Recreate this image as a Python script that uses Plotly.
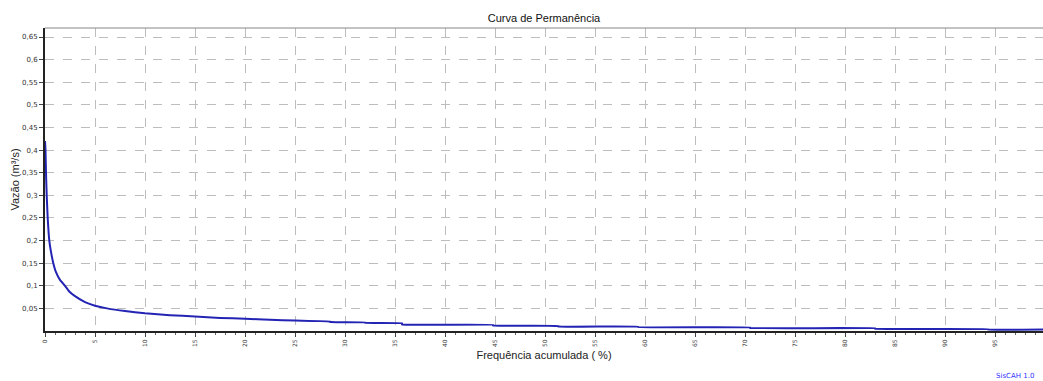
import plotly.graph_objects as go

# Flow duration curve
freq_pct = [0, 0.05, 0.1, 0.17, 0.27, 0.43, 0.6, 0.83, 1.1, 1.5, 2.0, 2.4, 3.0, 4.0, 5.0, 6.2,
            8.0, 10, 12.5, 15, 17.5, 20, 22.5, 25, 28.5, 28.5, 32, 32, 35.7, 35.7,
            44.8, 44.8, 51.3, 51.3, 59.3, 59.3, 70.5, 70.5, 83, 83, 94.3, 94.3, 100]
flow_m3s = [0.42, 0.40, 0.35, 0.30, 0.25, 0.20, 0.175, 0.15, 0.13, 0.113, 0.10, 0.088, 0.077, 0.064, 0.056, 0.050,
            0.044, 0.039, 0.035, 0.032, 0.029, 0.027, 0.025, 0.023, 0.021, 0.020, 0.019, 0.018, 0.017, 0.0145,
            0.0135, 0.012, 0.011, 0.010, 0.0095, 0.0085, 0.0078, 0.0067, 0.006, 0.005, 0.004, 0.0033, 0.0033]

x_tickvals = list(range(0, 101, 5))
x_ticktext = [str(v) for v in x_tickvals]
y_tickvals = [0.05, 0.1, 0.15, 0.2, 0.25, 0.3, 0.35, 0.4, 0.45, 0.5, 0.55, 0.6, 0.65]
y_ticktext = ["0,05", "0,1", "0,15", "0,2", "0,25", "0,3", "0,35", "0,4", "0,45", "0,5", "0,55", "0,6", "0,65"]

fig = go.Figure()
fig.add_trace(go.Scatter(x=freq_pct, y=flow_m3s, mode="lines",
                         line=dict(color="#2424b4", width=2, shape="spline", smoothing=0.3),
                         hoverinfo="skip", showlegend=False))

tickfont = dict(family="DejaVu Sans", size=7, color="#333333")
fig.update_layout(
    width=1043, height=381,
    margin=dict(l=45, r=0, t=28, b=50),
    paper_bgcolor="white", plot_bgcolor="white",
    font=dict(family="Liberation Sans", size=11, color="#222222"),
    title=dict(text="Curva de Permanência", x=0.5, xref="paper", xanchor="center",
               y=1 - 18 / 381, yanchor="middle", font=dict(size=11, color="#111111")),
    xaxis=dict(range=[0, 99.8], tickmode="array", tickvals=x_tickvals, ticktext=x_ticktext,
               tickangle=-90, tickfont=dict(family="DejaVu Sans", size=6, color="#333333"),
               ticks="outside", ticklen=4, tickcolor="#444444", automargin=False,
               minor=dict(dtick=1, ticks="outside", ticklen=2, tickcolor="#666666", showgrid=False),
               showgrid=True, gridcolor="#bdbdbd", griddash="dash", gridwidth=1,
               showline=True, linecolor="#222222", linewidth=2, zeroline=False,
               title=dict(text="Frequência acumulada ( %)", standoff=5,
                          font=dict(size=11, color="#222222"))),
    yaxis=dict(range=[0, 0.67], tickmode="array", tickvals=y_tickvals, ticktext=y_ticktext,
               tickfont=tickfont, ticks="outside", ticklen=4, tickcolor="#444444", automargin=False,
               showgrid=True, gridcolor="#bdbdbd", griddash="dash", gridwidth=1,
               showline=True, linecolor="#222222", linewidth=2, zeroline=False,
               title=dict(text="Vazão (m³/s)", standoff=0,
                          font=dict(size=11, color="#222222"))),
    shapes=[dict(type="line", xref="paper", yref="paper", x0=0, x1=1, y0=1, y1=1,
                 line=dict(color="#888888", width=1))],
    annotations=[dict(text="SisCAH 1.0", xref="paper", yref="paper", x=(1036 - 45) / 998,
                      y=-(376 - 331) / 303, xanchor="right", yanchor="middle", showarrow=False,
                      font=dict(family="DejaVu Sans", size=7, color="#3030ff"))],
)

fig.write_html("out.html", config={"displayModeBar": False},
               post_script="document.body.style.margin='0';document.body.style.overflow='hidden';")
